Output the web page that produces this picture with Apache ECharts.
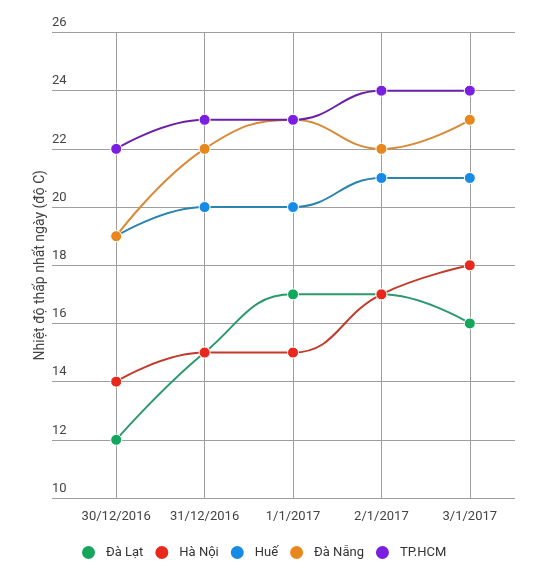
<!DOCTYPE html>
<html><head><meta charset="utf-8">
<script src="https://cdn.jsdelivr.net/npm/echarts@6/dist/echarts.min.js"></script>
<style>html,body{margin:0;padding:0;background:#fff}#c{width:543px;height:577px}</style>
</head><body><div id="c"></div>
<script>
const categories = ['30/12/2016','31/12/2016','1/1/2017','2/1/2017','3/1/2017'];
const daLat  = [12, 15, 17, 17, 16];
const haNoi  = [14, 15, 15, 17, 18];
const hue    = [19, 20, 20, 21, 21];
const daNang = [19, 22, 23, 22, 23];
const tphcm  = [22, 23, 23, 24, 24];
const seriesNames = ['Đà Lạt','Hà Nội','Huế','Đà Nẵng','TP.HCM'];
const seriesData = [daLat, haNoi, hue, daNang, tphcm];
const markerColors = ['#14a65c','#e8281c','#168be6','#e8881c','#7a1fe0'];
const lineColors   = ['#2b9a6b','#c23a2a','#2a84b0','#d88a38','#6a21a8'];

const chart = echarts.init(document.getElementById('c'));
const font = 'Roboto, "Noto Sans", sans-serif';
chart.setOption({
  animation: false,
  textStyle: {fontFamily: font},
  grid: [
    {left: 72, right: 29, top: 32.5, bottom: 79},
    {left: 52, right: 28, top: 32.5, bottom: 79}
  ],
  legend: {
    bottom: 11, left: 75, itemWidth: 15, itemHeight: 15, itemGap: 10,
    icon: 'circle',
    textStyle: {fontSize: 13, color: '#333', fontFamily: font, padding: [0, 0, 0, 5]},
    data: seriesNames
  },
  xAxis: [
    {type: 'category', gridIndex: 0, data: categories, boundaryGap: true,
     axisLine: {show: false}, axisTick: {show: false},
     axisLabel: {interval: 0, color: '#444', fontSize: 13, margin: 12, fontFamily: font},
     splitLine: {show: true, alignWithLabel: true, lineStyle: {color: '#9e9e9e', width: 1}}},
    {type: 'value', gridIndex: 1, show: false, min: 0, max: 1}
  ],
  yAxis: [
    {type: 'value', gridIndex: 0, min: 10, max: 26, interval: 2, show: false},
    {type: 'value', gridIndex: 1, min: 10, max: 26, interval: 2,
     name: 'Nhiệt độ thấp nhất ngày (độ C)', nameLocation: 'middle', nameGap: 5,
     nameMoveOverlap: false,
     nameTextStyle: {color: '#444', fontSize: 14, fontFamily: font},
     axisLine: {show: false}, axisTick: {show: false},
     axisLabel: {inside: true, margin: 0, align: 'left', verticalAlign: 'bottom',
       padding: [0, 0, 3, 0], color: '#444', fontSize: 13, fontFamily: font},
     splitLine: {show: true, lineStyle: {color: '#9e9e9e', width: 1}}}
  ],
  series: seriesData.map((d, i) => ({
    name: seriesNames[i], type: 'line', xAxisIndex: 0, yAxisIndex: 0,
    data: d, smooth: 0.45,
    symbol: 'circle', symbolSize: 11,
    itemStyle: {color: markerColors[i], borderColor: '#fff', borderWidth: 1},
    lineStyle: {color: lineColors[i], width: 2},
    z: 3 + i
  }))
});
</script></body></html>
